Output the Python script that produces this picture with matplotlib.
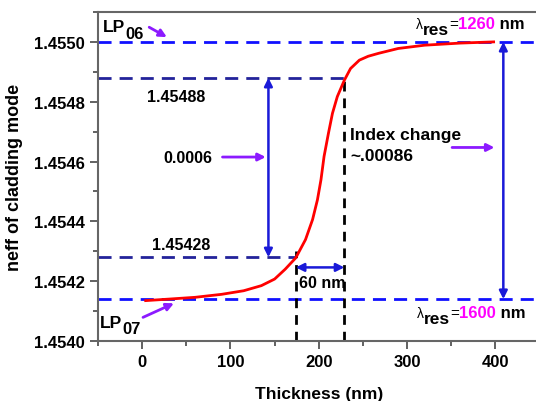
import matplotlib
matplotlib.use('Agg')
import matplotlib.pyplot as plt
from matplotlib.ticker import MultipleLocator, FormatStrFormatter

plt.rcParams['font.family'] = ['Liberation Sans', 'DejaVu Sans']

# curve
thickness = [4, 30, 60, 90, 115, 135, 150, 162, 174, 185, 193, 198.5, 202.5, 206, 211,
             215.5, 221, 229, 236, 246, 256, 268, 290, 320, 360, 398]
neff = [1.454135, 1.454140, 1.454146, 1.454156, 1.454168, 1.454185, 1.454207, 1.454240,
        1.454278, 1.454339, 1.454406, 1.454472, 1.454539, 1.454617, 1.454695, 1.454761,
        1.454817, 1.454872, 1.454911, 1.454939, 1.454952, 1.454962, 1.454978, 1.454989,
        1.454996, 1.4550]

lp06 = 1.4550
lp07 = 1.45414
n_hi = 1.45488
n_lo = 1.45428
x_lo = 174
x_hi = 229

blue = '#1010ff'
navy = '#23239a'
arrow_blue = '#1a1ad8'
purple = '#8c1aff'

fig = plt.figure(figsize=(5.36, 4.02), dpi=100)
ax = fig.add_axes([0.1828, 0.1493, 0.8238, 0.8184])

ax.plot(thickness, neff, color='red', lw=2, zorder=5)

dash = (4.7, 2.9)
ax.axhline(lp06, color=blue, lw=2, dashes=dash)
ax.axhline(lp07, color=blue, lw=2, dashes=dash)
ax.plot([-50, x_hi], [n_hi, n_hi], color=navy, lw=2, dashes=dash)
ax.plot([-50, x_lo], [n_lo, n_lo], color=navy, lw=2, dashes=dash)
ax.plot([x_lo, x_lo], [1.4540, 1.4543], color='black', lw=2, dashes=(3.5, 2.5))
ax.plot([x_hi, x_hi], [1.4540, n_hi], color='black', lw=2, dashes=(3.5, 2.5))

def darrow(p0, p1, color):
    ax.annotate('', xy=p1, xytext=p0,
                arrowprops=dict(arrowstyle='<|-|>', color=color, lw=1.8,
                                mutation_scale=12, shrinkA=0, shrinkB=0))

def parrow(p0, p1):
    ax.annotate('', xy=p1, xytext=p0,
                arrowprops=dict(arrowstyle='-|>', color=purple, lw=2,
                                mutation_scale=11, shrinkA=0, shrinkB=0))

darrow((143, n_lo), (143, n_hi), arrow_blue)
darrow((409, lp07), (409, lp06), arrow_blue)
darrow((x_lo, 1.454246), (x_hi, 1.454246), arrow_blue)

parrow((8, 1.455049), (28, 1.455016))
parrow((1, 1.454079), (36, 1.454126))
parrow((91, 1.454615), (140, 1.454615))
parrow((351, 1.454647), (399, 1.454647))

def chain(x, y, pieces):
    # pieces: (text, color, size, weight, dy in points)
    prev = None
    for s, c, fs, fw, dy in pieces:
        if prev is None:
            prev = ax.text(x, y, s, color=c, fontsize=fs, fontweight=fw, va='bottom')
        else:
            prev = ax.annotate(s, xy=(1, 0), xycoords=prev, xytext=(0, dy),
                               textcoords='offset points', color=c, fontsize=fs,
                               fontweight=fw, va='bottom')

chain(-44.5, 1.455025, [('LP', 'black', 12.5, 'bold', 0), ('06', 'black', 12, 'bold', -4.5)])
chain(-47.5, 1.454038, [('LP', 'black', 12.5, 'bold', 0), ('07', 'black', 12, 'bold', -4.5)])

def lam(x, y, num):
    chain(x, y, [('λ', 'black', 10, 'normal', 0), ('res', 'black', 12.5, 'bold', -4),
                 ('=', 'black', 11, 'normal', 4), (num, '#ff00ff', 12, 'bold', 0),
                 (' nm', 'black', 12, 'bold', 0)])

lam(310, 1.455036, '1260')
lam(311, 1.454070, '1600')

ax.text(38.5, 1.454817, '1.45488', fontsize=11.5, fontweight='bold', ha='center', va='center')
ax.text(51.5, 1.454612, '0.0006', fontsize=11.5, fontweight='bold', ha='center', va='center')
ax.text(43.6, 1.454322, '1.45428', fontsize=11.5, fontweight='bold', ha='center', va='center')
ax.text(235.5, 1.454692, 'Index change', fontsize=12.5, fontweight='bold', va='center')
ax.text(235.5, 1.454619, '~.00086', fontsize=12.5, fontweight='bold', va='center')
ax.text(178, 1.454196, '60 nm', fontsize=11.5, fontweight='bold', va='center')

ax.set_xlim(-50, 450)
ax.set_ylim(1.4540, 1.4551)
ax.xaxis.set_major_locator(MultipleLocator(100))
ax.xaxis.set_minor_locator(MultipleLocator(50))
ax.yaxis.set_major_locator(MultipleLocator(0.0002))
ax.yaxis.set_minor_locator(MultipleLocator(0.0001))
ax.yaxis.set_major_formatter(FormatStrFormatter('%.4f'))
ax.tick_params(which='both', direction='out', color='#555555', width=1.3,
               top=False, right=False)
ax.tick_params(which='major', length=6, labelsize=12)
ax.tick_params(which='minor', length=3.5)
for lab in ax.get_xticklabels() + ax.get_yticklabels():
    lab.set_fontweight('bold')
for sp in ax.spines.values():
    sp.set_color('#666666')
    sp.set_linewidth(1.5)

ax.set_xlabel('Thickness (nm)', fontsize=12.5, fontweight='bold', labelpad=12)
ax.set_ylabel('neff of cladding mode', fontsize=13, fontweight='bold', labelpad=8)

fig.savefig('out.png', dpi=100)
